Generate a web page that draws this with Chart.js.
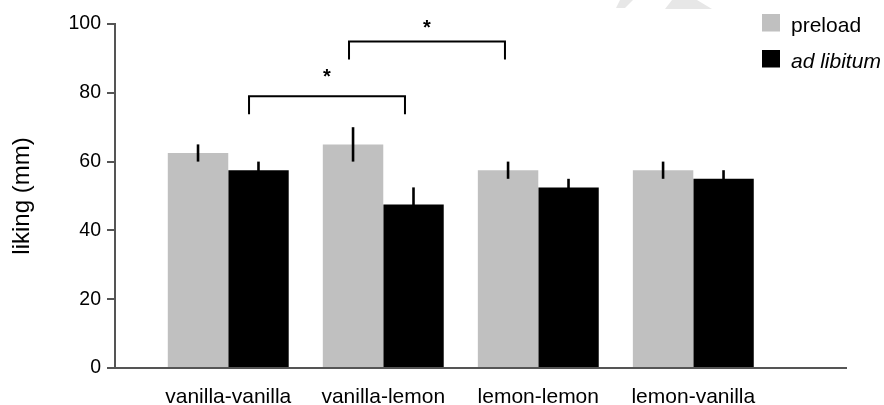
<!DOCTYPE html>
<html>
<head>
<meta charset="utf-8">
<script src="https://cdn.jsdelivr.net/npm/chart.js@4/dist/chart.umd.min.js"></script>
<style>
  html, body { margin: 0; padding: 0; background: #ffffff; }
  #wrap { width: 884px; height: 405px; }
</style>
</head>
<body>
<div id="wrap"><canvas id="chart" width="884" height="405"></canvas></div>
<script>
// Liking ratings (mm) per condition, mean and SEM
const conditions = ['vanilla-vanilla', 'vanilla-lemon', 'lemon-lemon', 'lemon-vanilla'];
const preload = [62.5, 65, 57.5, 57.5];
const preloadErr = [2.5, 5, 2.5, 2.5];
const adLibitum = [57.5, 47.5, 52.5, 55];
const adLibitumErr = [2.5, 5, 2.5, 2.5];
const yTicks = [0, 20, 40, 60, 80, 100];

// Significance brackets: x in condition units (1 = first condition), y in mm
const brackets = [
  { x1: 1.134, x2: 2.14, y: 79, drop: 5.2, starY: 86, label: '*' },
  { x1: 1.779, x2: 2.785, y: 94.9, drop: 5.2, starY: 100.4, label: '*' }
];

const FONT = '"Liberation Sans", Arial, Helvetica, sans-serif';

const errorBars = {
  id: 'errorBars',
  afterDatasetsDraw(chart) {
    const ctx = chart.ctx;
    const y = chart.scales.y;
    ctx.save();
    ctx.strokeStyle = '#000';
    ctx.lineWidth = 2.6;
    chart.data.datasets.forEach((ds, di) => {
      const meta = chart.getDatasetMeta(di);
      meta.data.forEach((bar, i) => {
        const v = ds.data[i].y;
        const e = ds.errors[i];
        ctx.beginPath();
        ctx.moveTo(bar.x, y.getPixelForValue(v - e));
        ctx.lineTo(bar.x, y.getPixelForValue(v + e));
        ctx.stroke();
      });
    });
    ctx.restore();
  }
};

const sigBrackets = {
  id: 'sigBrackets',
  afterDatasetsDraw(chart) {
    const ctx = chart.ctx;
    const xs = chart.scales.x, ys = chart.scales.y;
    ctx.save();
    ctx.strokeStyle = '#000';
    ctx.lineWidth = 2;
    ctx.lineJoin = 'miter';
    brackets.forEach(b => {
      const xa = xs.getPixelForValue(b.x1), xb = xs.getPixelForValue(b.x2);
      const yt = ys.getPixelForValue(b.y), yb = ys.getPixelForValue(b.y - b.drop);
      ctx.beginPath();
      ctx.moveTo(xa, yb);
      ctx.lineTo(xa, yt);
      ctx.lineTo(xb, yt);
      ctx.lineTo(xb, yb);
      ctx.stroke();
      ctx.fillStyle = '#000';
      ctx.font = 'bold 20px ' + FONT;
      ctx.textAlign = 'center';
      ctx.textBaseline = 'alphabetic';
      // asterisk glyph centre sits about 11px above the baseline
      ctx.fillText(b.label, (xa + xb) / 2, ys.getPixelForValue(b.starY) + 11);
    });
    ctx.restore();
  }
};

const sideLegend = {
  id: 'sideLegend',
  afterDraw(chart) {
    const ctx = chart.ctx;
    ctx.save();
    // faint marks at the top edge of the figure
    ctx.fillStyle = '#e7e7e7';
    ctx.beginPath();
    ctx.moveTo(620, 0); ctx.lineTo(633, 0); ctx.lineTo(625, 8); ctx.lineTo(616, 8);
    ctx.closePath(); ctx.fill();
    ctx.beginPath();
    ctx.moveTo(672, 0); ctx.lineTo(697, 0); ctx.lineTo(712, 9); ctx.lineTo(665, 9);
    ctx.closePath(); ctx.fill();

    const items = chart.data.datasets;
    const left = 762, tops = [14, 50];
    items.forEach((ds, i) => {
      ctx.fillStyle = ds.backgroundColor;
      ctx.fillRect(left, tops[i], 18, 17.5);
      ctx.fillStyle = '#000';
      ctx.font = (ds.italicLabel ? 'italic ' : '') + '21px ' + FONT;
      ctx.textAlign = 'left';
      ctx.textBaseline = 'alphabetic';
      ctx.fillText(ds.label, left + 29, tops[i] + 18);
    });
    ctx.restore();
  }
};

const toPoints = (vals) => vals.map((v, i) => ({ x: i + 1, y: v }));

new Chart(document.getElementById('chart'), {
  type: 'bar',
  data: {
    datasets: [
      { label: 'preload', data: toPoints(preload), errors: preloadErr,
        backgroundColor: '#c0c0c0', borderWidth: 0 },
      { label: 'ad libitum', data: toPoints(adLibitum), errors: adLibitumErr,
        backgroundColor: '#000000', borderWidth: 0, italicLabel: true }
    ]
  },
  options: {
    responsive: false,
    animation: false,
    devicePixelRatio: 1,
    layout: { padding: { left: 0, right: 38, top: 24, bottom: 0 } },
    datasets: { bar: { categoryPercentage: 0.78, barPercentage: 1.0 } },
    plugins: { legend: { display: false }, tooltip: { enabled: false } },
    scales: {
      x: {
        type: 'linear',
        offset: false,
        min: 0.2694,
        max: 4.985,
        afterBuildTicks(scale) { scale.ticks = conditions.map((c, i) => ({ value: i + 1 })); },
        afterFit(scale) { scale.height = 37; },
        grid: { display: false, drawTicks: false },
        border: { display: true, color: '#555555', width: 2 },
        ticks: {
          autoSkip: false,
          maxRotation: 0,
          padding: 17,
          color: '#000',
          font: { family: FONT, size: 21 },
          callback: (v) => conditions[Math.round(v) - 1] || ''
        }
      },
      y: {
        min: 0,
        max: 100,
        afterBuildTicks(scale) { scale.ticks = yTicks.map(v => ({ value: v })); },
        afterFit(scale) { scale.width = 115; },
        grid: { drawOnChartArea: false, drawTicks: true, tickLength: 8, color: '#555555', lineWidth: 2 },
        border: { display: true, color: '#555555', width: 2 },
        ticks: {
          padding: 6,
          color: '#000',
          font: { family: FONT, size: 19.5 }
        },
        title: {
          display: true,
          text: 'liking (mm)',
          color: '#000',
          font: { family: FONT, size: 24 },
          padding: { top: 8, bottom: 0 }
        }
      }
    }
  },
  plugins: [errorBars, sigBrackets, sideLegend]
});
</script>
</body>
</html>
